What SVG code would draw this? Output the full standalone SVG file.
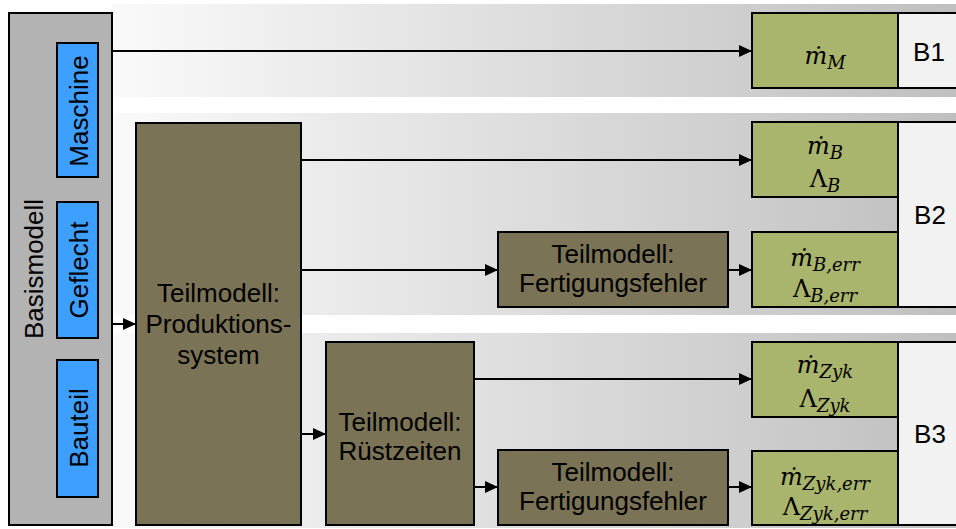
<svg xmlns="http://www.w3.org/2000/svg" width="956" height="529" viewBox="0 0 956 529">
<style>
.sans{font-family:"Liberation Sans",Arial,sans-serif;font-size:26px;fill:#000}
.math{font-family:"DejaVu Serif","Liberation Serif",serif;font-size:24px;fill:#000}
.it{font-style:italic}
.sub{font-style:italic;font-size:18px}
.box{stroke:#000;stroke-width:2}
.basis{fill:#b3b3b3}
.blue{fill:#3d9fff}
.brown{fill:#7a7356}
.green{fill:#a9b46c}
.cell{fill:#f2f2f2}
.conn line{stroke:#000;stroke-width:2;marker-end:url(#ah)}
</style>
<defs>
<linearGradient id="band" x1="112" y1="0" x2="956" y2="0" gradientUnits="userSpaceOnUse">
<stop offset="0" stop-color="#fafafa"/>
<stop offset="1" stop-color="#bfbfbf"/>
</linearGradient>
<marker id="ah" markerWidth="13" markerHeight="12" refX="13" refY="6" orient="auto" markerUnits="userSpaceOnUse">
<path d="M0,0 L13,6 L0,12 Z" fill="#000"/>
</marker>
</defs>

<g id="bands">
<rect x="112" y="4" width="844" height="93" fill="url(#band)"/>
<rect x="112" y="113" width="844" height="202" fill="url(#band)"/>
<rect x="112" y="333" width="844" height="195" fill="url(#band)"/>
</g>

<g id="basismodell">
<rect class="box basis" x="9" y="13" width="103" height="512"/>
<text class="sans" transform="translate(43,269) rotate(-90)" text-anchor="middle">Basismodell</text>
</g>
<g id="maschine">
<rect class="box blue" x="57" y="43" width="41" height="134"/>
<text class="sans" transform="translate(88,111) rotate(-90)" text-anchor="middle">Maschine</text>
</g>
<g id="geflecht">
<rect class="box blue" x="57" y="202" width="41" height="136"/>
<text class="sans" transform="translate(88,270) rotate(-90)" text-anchor="middle">Geflecht</text>
</g>
<g id="bauteil">
<rect class="box blue" x="57" y="360" width="41" height="137"/>
<text class="sans" transform="translate(88,428) rotate(-90)" text-anchor="middle">Bauteil</text>
</g>

<g id="produktionssystem">
<rect class="box brown" x="136" y="123" width="165" height="402"/>
<text class="sans" text-anchor="middle"><tspan x="218.5" y="302">Teilmodell:</tspan><tspan x="218.5" y="333">Produktions-</tspan><tspan x="218.5" y="364">system</tspan></text>
</g>
<g id="fertigungsfehler1">
<rect class="box brown" x="498" y="232" width="230" height="75"/>
<text class="sans" text-anchor="middle"><tspan x="613" y="263">Teilmodell:</tspan><tspan x="613" y="292">Fertigungsfehler</tspan></text>
</g>
<g id="ruestzeiten">
<rect class="box brown" x="326" y="342" width="148" height="183"/>
<text class="sans" text-anchor="middle"><tspan x="400" y="431">Teilmodell:</tspan><tspan x="400" y="460">Rüstzeiten</tspan></text>
</g>
<g id="fertigungsfehler2">
<rect class="box brown" x="498" y="450" width="230" height="75"/>
<text class="sans" text-anchor="middle"><tspan x="613" y="481">Teilmodell:</tspan><tspan x="613" y="510">Fertigungsfehler</tspan></text>
</g>

<g id="b1">
<rect class="box cell" x="898" y="13" width="62" height="75"/>
<text class="sans" x="929" y="61" text-anchor="middle">B1</text>
</g>
<g id="b2">
<rect class="box cell" x="898" y="122" width="62" height="185"/>
<text class="sans" x="930" y="224" text-anchor="middle">B2</text>
</g>
<g id="b3">
<rect class="box cell" x="898" y="342" width="62" height="183"/>
<text class="sans" x="930" y="443" text-anchor="middle">B3</text>
</g>

<g id="out_m">
<rect class="box green" x="752" y="13" width="146" height="75"/>
<text class="math" x="825" y="64" text-anchor="middle"><tspan class="it">ṁ</tspan><tspan class="sub" dy="5">M</tspan></text>
</g>
<g id="out_b">
<rect class="box green" x="752" y="122" width="146" height="75"/>
<text class="math" x="825" y="154" text-anchor="middle"><tspan class="it">ṁ</tspan><tspan class="sub" dy="5">B</tspan></text>
<text class="math" x="825" y="187" text-anchor="middle">Λ<tspan class="sub" dy="5">B</tspan></text>
</g>
<g id="out_berr">
<rect class="box green" x="752" y="232" width="146" height="75"/>
<text class="math" x="825" y="266" text-anchor="middle"><tspan class="it">ṁ</tspan><tspan class="sub" dy="5">B,err</tspan></text>
<text class="math" x="825" y="297" text-anchor="middle">Λ<tspan class="sub" dy="5">B,err</tspan></text>
</g>
<g id="out_zyk">
<rect class="box green" x="752" y="342" width="146" height="75"/>
<text class="math" x="825" y="373" text-anchor="middle"><tspan class="it">ṁ</tspan><tspan class="sub" dy="5">Zyk</tspan></text>
<text class="math" x="825" y="407" text-anchor="middle">Λ<tspan class="sub" dy="5">Zyk</tspan></text>
</g>
<g id="out_zykerr">
<rect class="box green" x="752" y="451" width="146" height="74"/>
<text class="math" x="825" y="485" text-anchor="middle"><tspan class="it">ṁ</tspan><tspan class="sub" dy="5">Zyk,err</tspan></text>
<text class="math" x="825" y="515" text-anchor="middle">Λ<tspan class="sub" dy="5">Zyk,err</tspan></text>
</g>

<g id="connectors" class="conn">
<line x1="112" y1="51" x2="752" y2="51"/>
<line x1="112" y1="324" x2="136" y2="324"/>
<line x1="301" y1="160" x2="752" y2="160"/>
<line x1="301" y1="270" x2="498" y2="270"/>
<line x1="728" y1="270" x2="752" y2="270"/>
<line x1="301" y1="434" x2="326" y2="434"/>
<line x1="474" y1="379" x2="752" y2="379"/>
<line x1="474" y1="487" x2="498" y2="487"/>
<line x1="728" y1="487" x2="752" y2="487"/>
</g>
</svg>
